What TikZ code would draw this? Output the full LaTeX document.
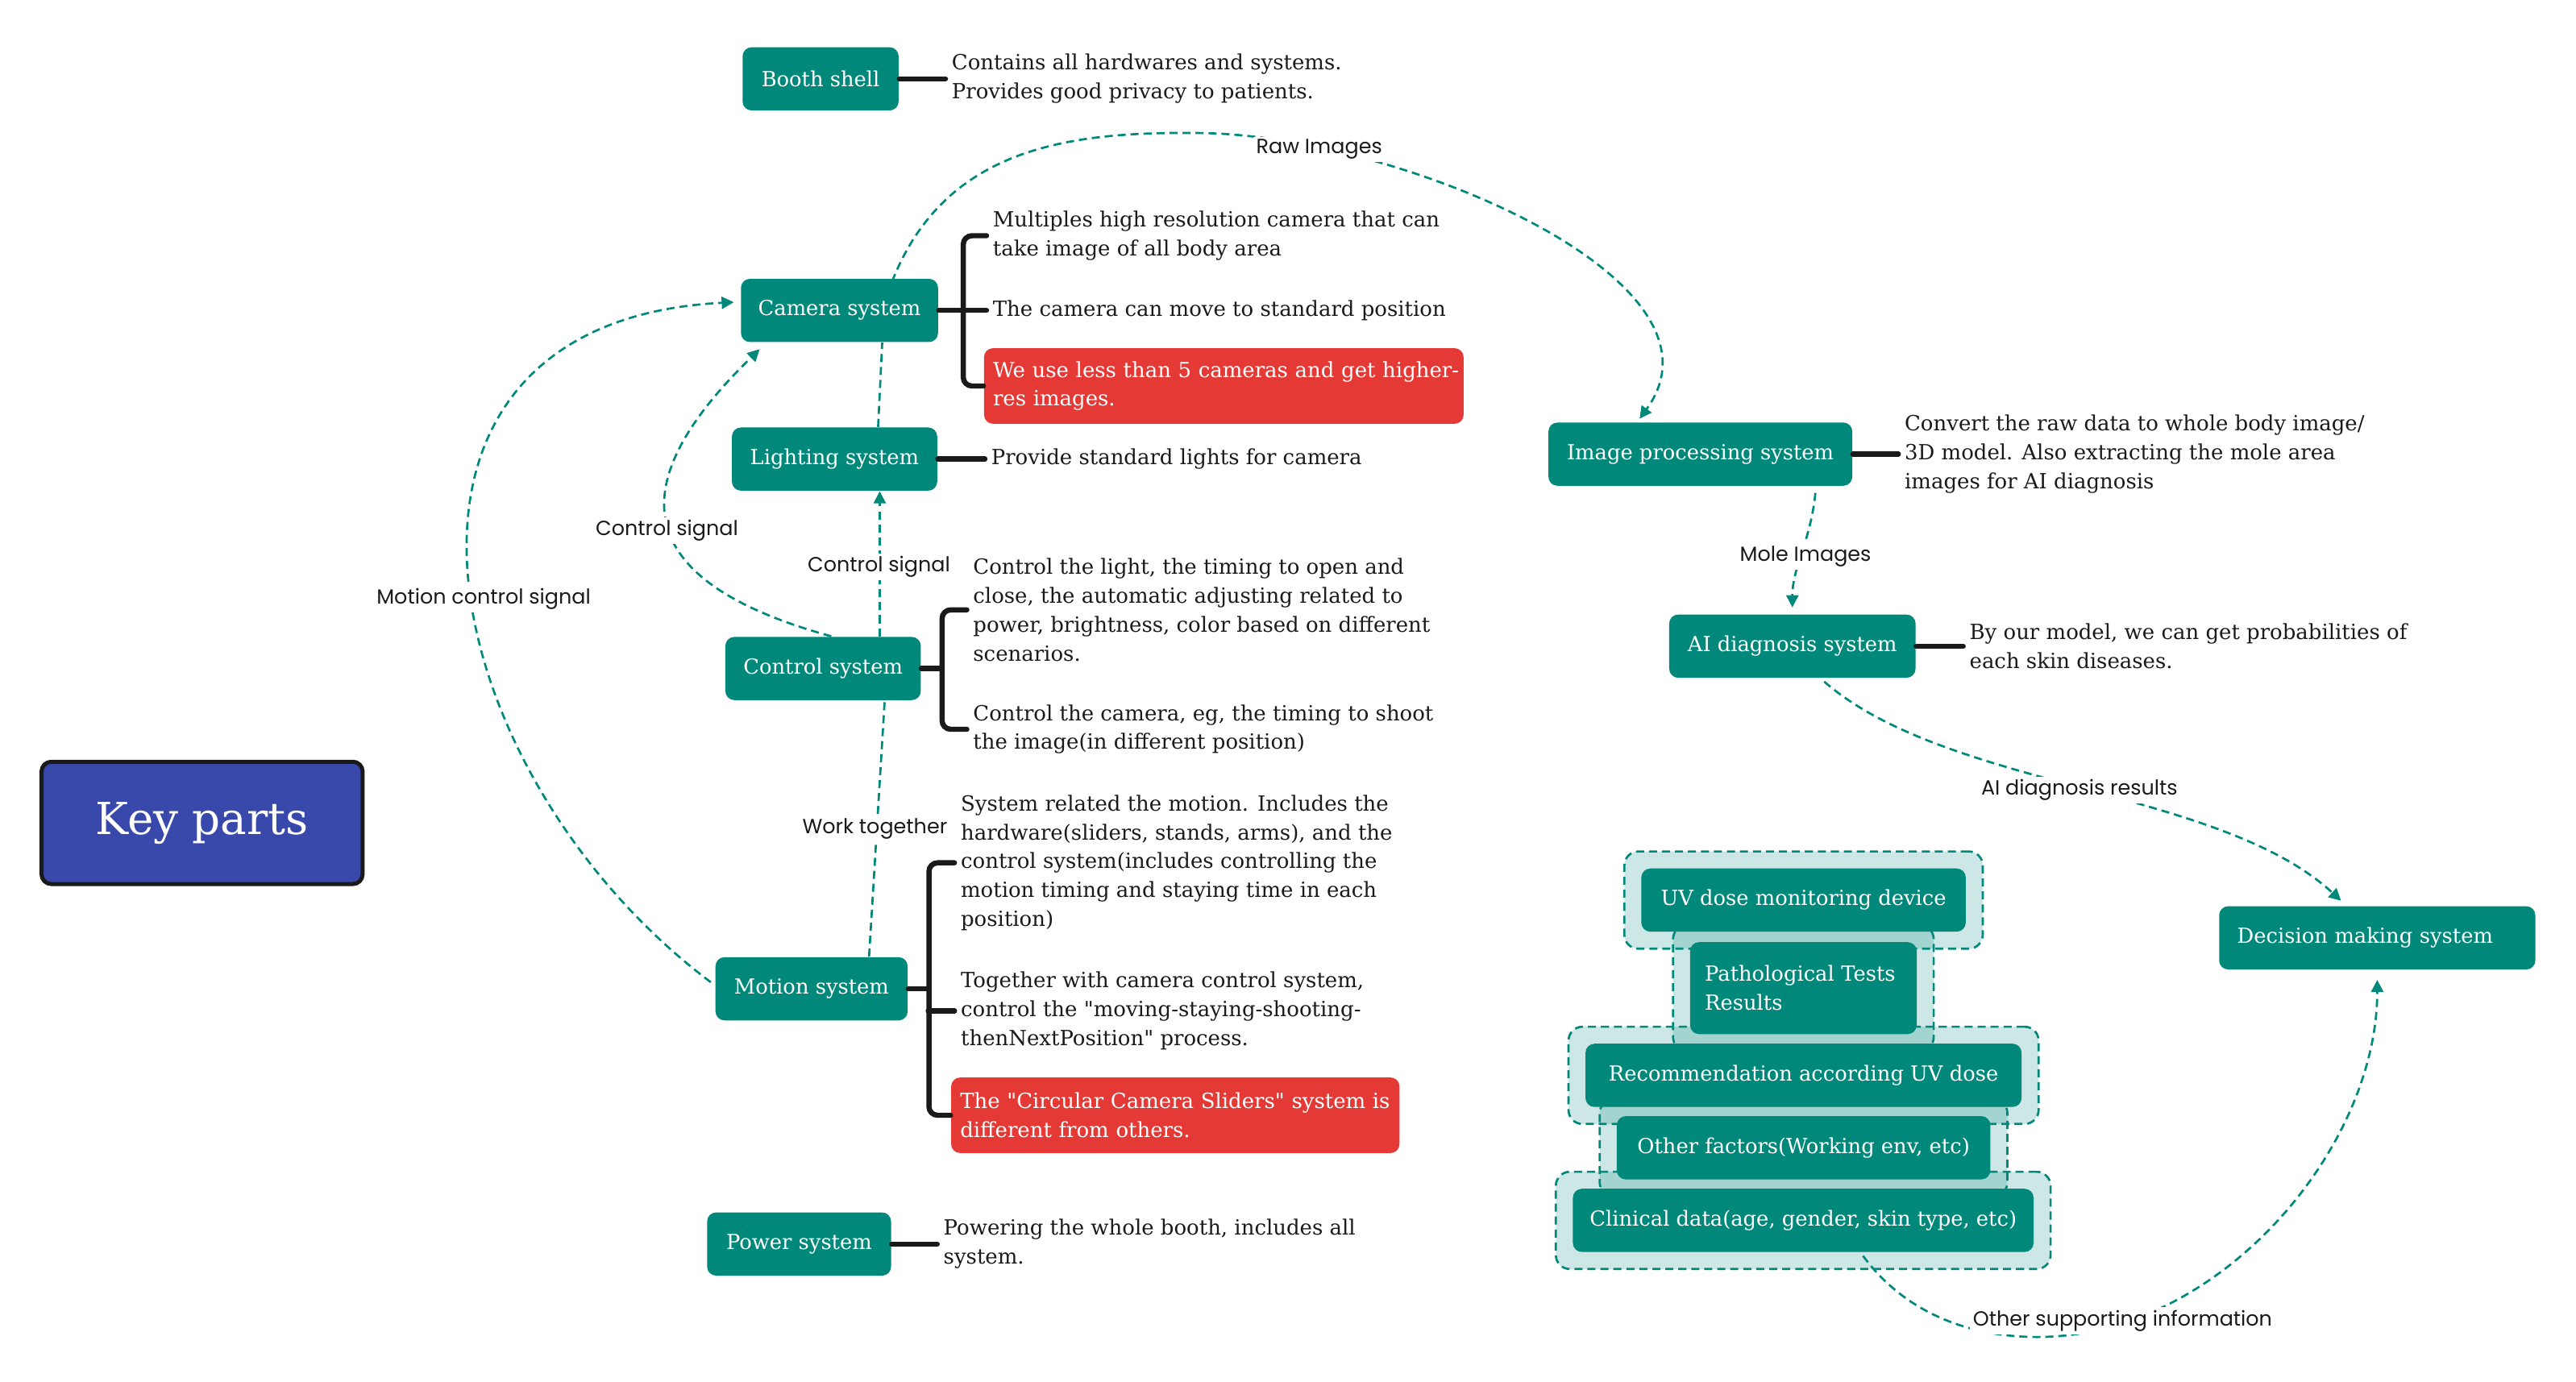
\documentclass[tikz,border=0pt]{standalone}
\usepackage{fontspec}
\setmainfont{DejaVu Serif}
\newfontfamily\labelfont{Poppins}
\usetikzlibrary{arrows.meta,calc,fit,backgrounds,positioning}
\definecolor{nodeteal}{HTML}{00897B}
\definecolor{notered}{HTML}{E53935}
\definecolor{titleblue}{HTML}{3949AB}
\definecolor{inkblack}{HTML}{1A1A1A}
\tikzset{
	x=0.02cm, y=-0.02cm,
	part/.style={rectangle, rounded corners=0.11cm, fill=nodeteal, text=white,
		font=\fontsize{7.2}{10}\selectfont, minimum height=0.77cm, inner sep=0pt},
	note/.style={anchor=west, align=left, inner sep=2pt, text=inkblack,
		font=\fontsize{7.25}{10}\selectfont},
	warn/.style={note, rounded corners=0.11cm, fill=notered, text=white,
		inner xsep=0.11cm, minimum height=0.92cm},
	title/.style={rectangle, rounded corners=0.12cm, fill=titleblue, draw=inkblack,
		line width=1.4pt, text=white, font=\fontsize{15.3}{17}\selectfont,
		minimum width=3.91cm, minimum height=1.49cm},
	halo/.style={rounded corners=0.17cm, draw=nodeteal, fill=nodeteal, fill opacity=0.2,
		line width=0.75pt, dash pattern=on 2.8pt off 1.7pt, inner sep=0.2cm},
	branch/.style={draw=inkblack, line width=1.8pt, rounded corners=3pt, line cap=round},
	flow/.style={draw=nodeteal, line width=0.75pt, dash pattern=on 2.8pt off 1.7pt,
		-{Triangle[length=4.2pt,width=4.2pt]}},
	flowlabel/.style={fill=white, inner sep=1pt, text=inkblack,
		font=\labelfont\fontsize{7.1}{8}\selectfont},
}

\begin{document}
\begin{tikzpicture}
    \useasboundingbox (0,0) rectangle (1568,841);

    \node[title] (keyparts) at (123,501) {Key parts};

    \node[part, minimum width=1.9cm] (booth) at (499.5,48) {Booth shell};
    \node[note] (boothnote) at (575.5,48) {Contains all hardwares and systems.\\Provides good privacy to patients.};

    \node[part, minimum width=2.4cm] (camera) at (511,189) {Camera system};
    \node[note] (camnoteA) at (600.5,143.5) {Multiples high resolution camera that can\\take image of all body area};
    \node[note] (camnoteB) at (600.5,189) {The camera can move to standard position};
    \node[warn, text width=5.62cm] (camnoteC) at (598.6,235) {\mbox{We use less than 5 cameras and get higher-}\\\mbox{res images.}};

    \node[part, minimum width=2.5cm] (lighting) at (508,279.5) {Lighting system};
    \node[note] (lightnote) at (599.5,279.5) {Provide standard lights for camera};

    \node[part, minimum width=2.38cm] (control) at (501,407) {Control system};
    \node[note] (ctrlnoteA) at (588.5,371.3) {Control the light, the timing to open and\\close, the automatic adjusting related to\\power, brightness, color based on different\\scenarios.};
    \node[note] (ctrlnoteB) at (588.5,444) {Control the camera, eg, the timing to shoot\\the image(in different position)};

    \node[part, minimum width=2.34cm] (motion) at (494,602) {Motion system};
    \node[note] (motnoteA) at (581,525.3) {System related the motion. Includes the\\hardware(sliders, stands, arms), and the\\control system(includes controlling the\\motion timing and staying time in each\\position)};
    \node[note] (motnoteB) at (581,615.5) {Together with camera control system,\\control the \textquotedbl moving-staying-shooting-\\thenNextPosition\textquotedbl{} process.};
    \node[warn, text width=5.24cm] (motnoteC) at (578.6,679) {\mbox{The \textquotedbl Circular Camera Sliders\textquotedbl{} system is}\\\mbox{different from others.}};

    \node[part, minimum width=2.24cm] (power) at (486.4,757.4) {Power system};
    \node[note] (powernote) at (570.5,757.4) {Powering the whole booth, includes all\\system.};

    \node[part, minimum width=3.7cm] (imgproc) at (1035,276.5) {Image processing system};
    \node[note] (imgnote) at (1155.5,276.5) {Convert the raw data to whole body image/\\3D model. Also extracting the mole area\\images for AI diagnosis};

    \node[part, minimum width=3cm] (aidiag) at (1091,393.4) {AI diagnosis system};
    \node[note] (ainote) at (1195,393.4) {By our model, we can get probabilities of\\each skin diseases.};

    \node[part, text width=3.41cm, align=left, inner xsep=0.22cm] (decision) at (1447,571) {\mbox{Decision making system}};

    \node[part, minimum width=3.95cm] (uvdevice) at (1097.8,548) {UV dose monitoring device};
    \node[part, minimum height=1.12cm, text width=2.4cm, align=left, inner xsep=0.18cm] (pathology) at (1097.7,601.6) {\mbox{Pathological Tests}\\\mbox{Results}};
    \node[part, minimum width=5.31cm] (uvadvice) at (1097.8,654.7) {Recommendation according UV dose};
    \node[part, minimum width=4.55cm] (otherfactor) at (1097.8,698.8) {Other factors(Working env, etc)};
    \node[part, minimum width=5.61cm] (clinical) at (1097.6,743) {Clinical data(age, gender, skin type, etc)};

    \draw[branch] (booth.east) -- (boothnote.west);
    \draw[branch] (camera.east) -- (camnoteB.west);
    \draw[branch] (camnoteA.west) -| ($(camera.east)+(15,0)$) |- (camnoteC.west);
    \draw[branch] (lighting.east) -- (lightnote.west);
    \draw[branch] (control.east) -- ++(12.6,0);
    \draw[branch] (ctrlnoteA.west) -| ($(control.east)+(12.6,0)$) |- (ctrlnoteB.west);
    \draw[branch] (motion.east) -- ++(12.6,0);
    \draw[branch] (motnoteA.west) -| ($(motion.east)+(12.6,0)$) |- (motnoteC.west);
    \draw[branch] (motnoteB.west) -- ++(-16,0);
    \draw[branch] (power.east) -- (powernote.west);
    \draw[branch] (imgproc.east) -- (imgnote.west);
    \draw[branch] (aidiag.east) -- (ainote.west);

    \begin{scope}[on background layer]
    \node[halo, fit=(uvdevice)] (uvhalo) {};
    \node[halo, fit=(pathology)] (pathhalo) {};
    \node[halo, fit=(uvadvice)] (advicehalo) {};
    \node[halo, fit=(otherfactor)] (factorhalo) {};
    \node[halo, fit=(clinical)] (clinicalhalo) {};

    \draw[flow] ($(camera.north)+(32,2)$) .. controls (575,90) and (650,80) .. (730,81)
        .. controls (850,82) and (1060,170) .. ($(imgproc.north)+(-37,-2)$);
    \draw[flow] ($(control.north)+(34.5,0)$) -- ($(lighting.south)+(27.5,0)$);
    \draw[flow, -] ($(lighting.north)+(26.5,0)$) -- ($(camera.south)+(26,0)$);
    \draw[flow, -] ($(motion.north)+(35,0)$) -- ($(control.south)+(37.5,0)$);
    \draw[flow] ($(control.north)+(5,0)$) .. controls (370,350) and (388,285) .. ($(camera.south)+(-48.6,4)$);
    \draw[flow] ($(motion.west)+(-2.5,-4)$) .. controls (261,469) and (207,196) .. ($(camera.west)+(-4,-5)$);
    \draw[flow] ($(imgproc.south)+(70,4)$) .. controls (1102,330) and (1091,345) .. ($(aidiag.north)+(0,-4)$);
    \draw[flow] ($(aidiag.south)+(19.4,2)$) .. controls (1185,480) and (1351,480) .. ($(decision.north)+(-22,-3)$);
    \draw[flow] ($(clinical.south)+(36.4,2)$) .. controls (1160,800) and (1200,814) .. (1240,814)
        .. controls (1350,814) and (1447,700) .. ($(decision.south)+(0,6)$);
    \end{scope}

    \node[flowlabel] (rawlabel) at (803,91) {Raw Images};
    \node[flowlabel] (lightsignal) at (535,345) {Control signal};
    \node[flowlabel] (camsignal) at (406,323) {Control signal};
    \node[flowlabel] (motionsignal) at (294.4,364.6) {Motion control signal};
    \node[flowlabel] (worklabel) at (532.5,504.7) {Work together};
    \node[flowlabel] (molelabel) at (1099,338.6) {Mole Images};
    \node[flowlabel] (resultlabel) at (1265.7,481) {AI diagnosis results};
    \node[flowlabel] (supportlabel) at (1292,804) {Other supporting information};
\end{tikzpicture}
\end{document}
